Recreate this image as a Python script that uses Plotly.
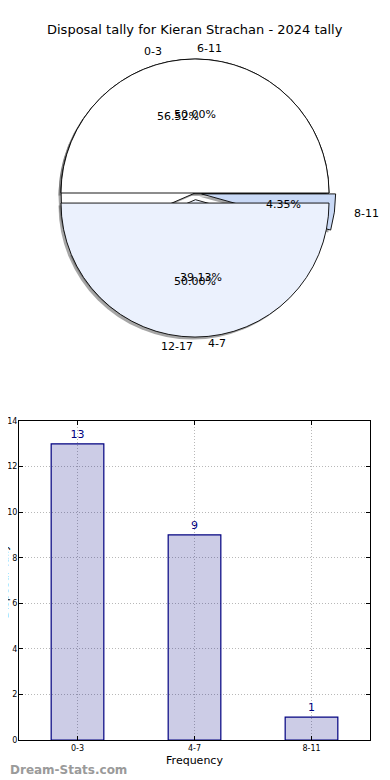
import math
import plotly.graph_objects as go

# ---------------- data ----------------
title_text = "Disposal tally for Kieran Strachan - 2024 tally"
bins = ["0-3", "4-7", "8-11"]
counts = [13, 9, 1]
pie1_labels = ["0-3", "4-7", "8-11"]
pie1_values = [13, 9, 1]
pie1_pull = [0.0, 0.05, 0.05]
pie1_colors = ["#ffffff", "#ebf1fd", "#c9d9f6"]
pie2_labels = ["6-11", "12-17"]
pie2_values = [1, 1]
pie2_pull = [0.0, 0.075]
pie2_colors = ["#ffffff", "#ebf1fd"]
y_ticks = [0, 2, 4, 6, 8, 10, 12, 14]

# the page body has an 8px margin, so the figure is drawn 8px in from the window edge
OFF = 8
W, H = 390 - OFF, 780 - OFF
FONT = "DejaVu Sans"

# ---------------- pie geometry (window pixels) ----------------
R = 134.0
CX, CY = 195.0, 193.0
RX_TXT, RY_TXT = 138.0, 131.0   # text placement radii
SHADOW_DX, SHADOW_DY = -2.5, 2.5


def domain_for(pulls, dx=0.0, dy=0.0):
    half = R * (1 + max(pulls))
    cx, cy = CX + dx - OFF, CY + dy - OFF
    return dict(x=[(cx - half) / W, (cx + half) / W],
                y=[(H - cy - half) / H, (H - cy + half) / H])


def pie_trace(labels, values, pulls, colors, dx=0.0, dy=0.0, shadow=False):
    # clockwise from 3 o'clock with reversed order == counter-clockwise from 3 o'clock
    lab = list(reversed(labels))
    val = list(reversed(values))
    pul = list(reversed(pulls))
    col = list(reversed(colors))
    if shadow:
        col = ["rgba(77,77,77,0.5)"] * len(val)
        line = dict(width=0)
    else:
        line = dict(color="black", width=0.9)
    return go.Pie(labels=lab, values=val, pull=pul, sort=False,
                  direction="clockwise", rotation=90,
                  marker=dict(colors=col, line=line),
                  textinfo="none", hoverinfo="skip", showlegend=False,
                  domain=domain_for(pulls, dx, dy))


fig = go.Figure()
fig.add_trace(pie_trace(pie1_labels, pie1_values, pie1_pull, pie1_colors, SHADOW_DX, SHADOW_DY, True))
fig.add_trace(pie_trace(pie2_labels, pie2_values, pie2_pull, pie2_colors, SHADOW_DX, SHADOW_DY, True))
fig.add_trace(pie_trace(pie1_labels, pie1_values, pie1_pull, pie1_colors))
fig.add_trace(pie_trace(pie2_labels, pie2_values, pie2_pull, pie2_colors))

annotations = []


def px_ann(x, y, text, xanchor="center", size=11, color="black", **kw):
    annotations.append(dict(x=(x - OFF) / W, y=1 - (y - OFF) / H, xref="paper", yref="paper",
                            text=text, showarrow=False, xanchor=xanchor, yanchor="middle",
                            font=dict(family=FONT, size=size, color=color), **kw))


def pie_texts(labels, values, pulls):
    total = float(sum(values))
    theta = 0.0
    for lab, v, p in zip(labels, values, pulls):
        a = 360.0 * v / total
        mid = math.radians(theta + a / 2)
        c, s = math.cos(mid), math.sin(mid)
        ox = CX + p * RX_TXT * c
        oy = CY - p * RY_TXT * s
        px_ann(ox + 1.1 * RX_TXT * c, oy - 1.1 * RY_TXT * s, lab,
               xanchor="left" if c > 0 else "right")
        px_ann(ox + 0.6 * RX_TXT * c, oy - 0.6 * RY_TXT * s, "%.2f%%" % (100.0 * v / total))
        theta += a


pie_texts(pie1_labels, pie1_values, pie1_pull)
pie_texts(pie2_labels, pie2_values, pie2_pull)

# title
px_ann(195, 30, title_text, size=13)
# watermark
px_ann(OFF, 770, "<b>Dream-Stats.com</b>", xanchor="left", size=12, color="#9a9a9a")
# y-axis label, mostly clipped by the left edge as in the original
annotations.append(dict(x=4 / W, y=1 - (581 - OFF) / H, xref="paper", yref="paper",
                        text="Disposal Tally", showarrow=False, textangle=-90,
                        xanchor="right", yanchor="middle",
                        font=dict(family=FONT, size=11, color="black")))

# ---------------- bar chart ----------------
fig.add_trace(go.Bar(x=bins, y=counts, width=0.45,
                     marker=dict(color="rgba(0,0,128,0.2)", line=dict(color="#000080", width=1.2)),
                     text=[str(c) for c in counts], textposition="outside",
                     textfont=dict(family=FONT, size=11, color="#000080"),
                     cliponaxis=False, hoverinfo="skip", showlegend=False))

ax_common = dict(showline=True, linecolor="black", linewidth=1, mirror="ticks",
                 ticks="inside", ticklen=4, tickcolor="black",
                 showgrid=True, gridcolor="#b8b8b8", griddash="1px,2px", gridwidth=1,
                 zeroline=False, automargin=False,
                 tickfont=dict(family=FONT, size=8, color="black"))

fig.update_layout(
    width=W, height=H,
    margin=dict(l=0, r=0, t=0, b=0),
    paper_bgcolor="white", plot_bgcolor="white",
    xaxis=dict(domain=[(19 - OFF) / W, (370 - OFF) / W], range=[-0.5, 2.5], **ax_common,
               title=dict(text="Frequency", font=dict(family=FONT, size=11, color="black"), standoff=4)),
    yaxis=dict(domain=[(H - (740 - OFF)) / H, (H - (421 - OFF)) / H], range=[0, 14],
               tickvals=y_ticks, ticklabelstandoff=-1, **ax_common),
    annotations=annotations,
)

fig.write_html("out.html")
